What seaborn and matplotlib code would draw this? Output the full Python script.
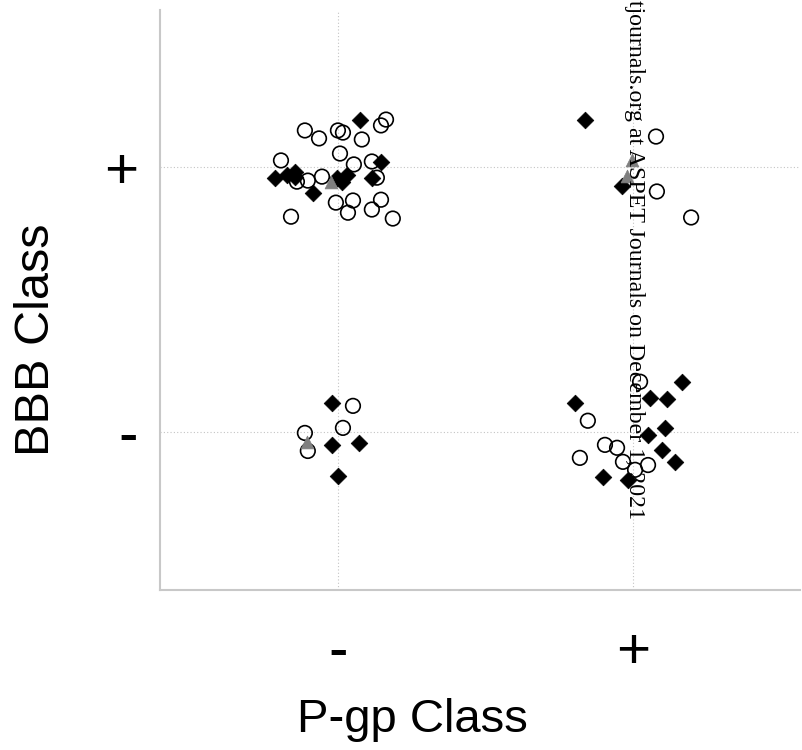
import matplotlib
matplotlib.use("Agg")
import matplotlib.pyplot as plt
import seaborn as sns

# category positions: 0 = "-", 1 = "+" (jittered values)
x_ticklabels = ["-", "+"]
y_ticklabels = ["-", "+"]

# open circles
circle_x = [-0.112, -0.064, 0.000, 0.017, 0.163, 0.146, 0.081, 0.007, -0.193, 0.054,
            0.115, 0.132, -0.054, -0.102, -0.139, -0.007, 0.051, 0.034, 0.115, 0.146,
            0.186, -0.159,
            1.078, 1.081, 1.197,
            0.051, 0.017, -0.112, -0.102,
            1.024, 0.847, 0.905, 0.946, 0.820, 0.966, 1.007, 1.051]
circle_y = [1.136, 1.106, 1.136, 1.128, 1.177, 1.155, 1.102, 1.049, 1.023, 1.008,
            1.019, 0.958, 0.962, 0.947, 0.943, 0.864, 0.872, 0.826, 0.838, 0.875,
            0.804, 0.811,
            1.113, 0.906, 0.808,
            0.098, 0.015, -0.004, -0.072,
            0.189, 0.042, -0.049, -0.060, -0.098, -0.113, -0.143, -0.125]

# filled diamonds
diamond_x = [0.075, 0.146, 0.115, -0.214, -0.173, -0.146, -0.146, -0.085, -0.003, 0.014,
             0.031,
             0.837, 0.963,
             -0.020, -0.020, 0.071, 0.000,
             1.166, 1.058, 1.115, 0.803, 1.108, 1.051, 1.098, 1.142, 0.898, 0.983]
diamond_y = [1.177, 1.019, 0.955, 0.958, 0.970, 0.981, 0.962, 0.902, 0.958, 0.940,
             0.970,
             1.174, 0.925,
             0.109, -0.049, -0.042, -0.166,
             0.189, 0.128, 0.125, 0.109, 0.015, -0.011, -0.068, -0.113, -0.170, -0.181]

# gray triangles
triangle_x = [-0.024, 0.997, 0.980, -0.105]
triangle_y = [0.940, 1.023, 0.966, -0.038]

sns.set_style("white")
plt.rcParams["font.family"] = ["Liberation Sans", "DejaVu Sans"]
plt.rcParams["text.color"] = "black"
plt.rcParams["axes.labelcolor"] = "black"
plt.rcParams["xtick.labelcolor"] = "black"
plt.rcParams["ytick.labelcolor"] = "black"

fig = plt.figure(figsize=(8.03, 7.5), dpi=100)
ax = fig.add_axes([160 / 803, 1 - 590 / 750, 640 / 803, 580 / 750])

sns.scatterplot(x=circle_x, y=circle_y, ax=ax, marker="o", s=110,
                facecolor="none", edgecolor="black", linewidth=1.2, zorder=3)
sns.scatterplot(x=diamond_x, y=diamond_y, ax=ax, marker="D", s=72,
                color="black", edgecolor="black", linewidth=0.5, zorder=4)
sns.scatterplot(x=triangle_x, y=triangle_y, ax=ax, marker="^", s=85,
                color="#7f7f7f", edgecolor="#7f7f7f", linewidth=0.5, zorder=5)

ax.set_xlim(-0.603, 1.566)
ax.set_ylim(-0.596, 1.59)
ax.set_xticks([0, 1])
ax.set_xticklabels(x_ticklabels, fontsize=42)
ax.set_yticks([0, 1])
ax.set_yticklabels(y_ticklabels, fontsize=42)
ax.tick_params(axis="x", length=0, pad=26)
ax.tick_params(axis="y", length=5, color="#c8c8c8", width=1, pad=11)

ax.grid(True, color="#c4c4c4", linestyle=(0, (1, 2)), linewidth=0.8)
ax.set_axisbelow(True)

for side in ["top", "right"]:
    ax.spines[side].set_visible(False)
for side in ["left", "bottom"]:
    ax.spines[side].set_color("#c8c8c8")
    ax.spines[side].set_linewidth(1.5)

ax.set_xlabel("P-gp Class", fontsize=34)
ax.set_ylabel("BBB Class", fontsize=35)
ax.xaxis.set_label_coords((412 - 160) / 640, (590 - 720) / 580)
ax.xaxis.label.set_va("center")
ax.yaxis.set_label_coords((37 - 160) / 640, (590 - 340) / 580)
ax.yaxis.label.set_va("center")

fig.text(634 / 803, 1.0, "tjournals.org at ASPET Journals on December 1, 2021",
         rotation=270, ha="center", va="top", fontsize=17.2,
         family=["Liberation Serif", "DejaVu Serif"], zorder=10)

plt.savefig("out.png", dpi=100)
